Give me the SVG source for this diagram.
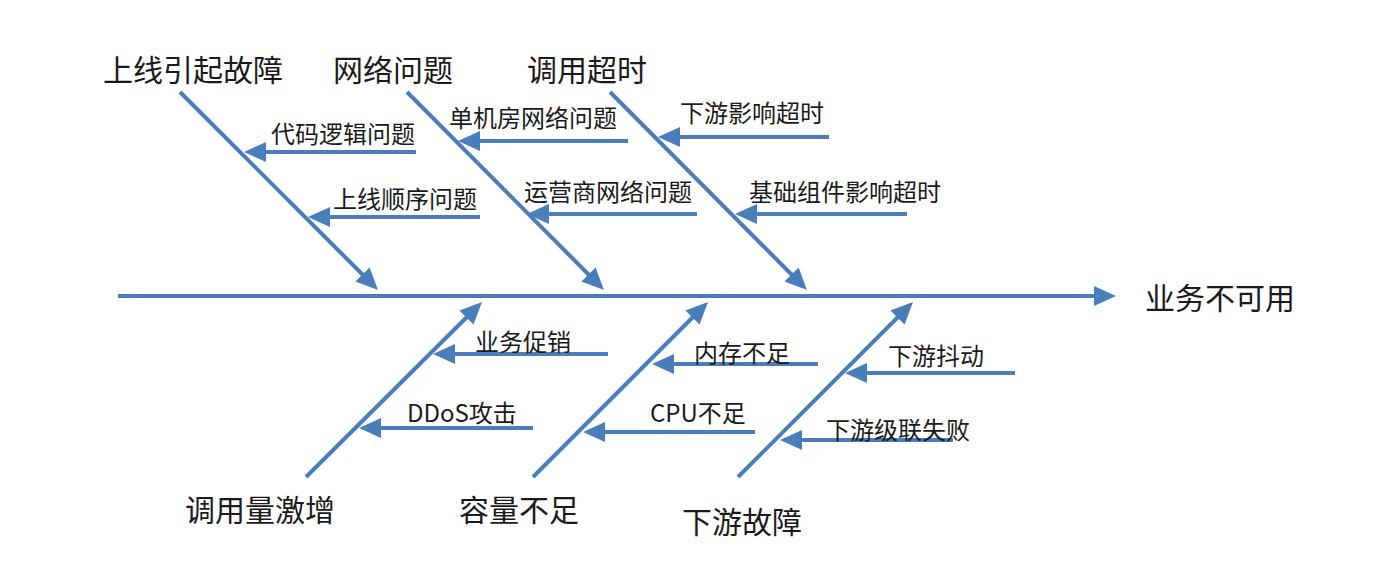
<svg xmlns="http://www.w3.org/2000/svg" width="1400" height="581" viewBox="0 0 1400 581">
<style>
.ln{stroke:#4a7ebb;stroke-width:4;fill:none;marker-end:url(#ah)}
.big{font-family:"Noto Sans CJK SC","Noto Sans",sans-serif;font-size:30px;fill:#1a1a1a}
.sm{font-family:"Noto Sans CJK SC","Noto Sans",sans-serif;font-size:24px;fill:#1a1a1a}
</style>
<defs>
<marker id="ah" markerUnits="userSpaceOnUse" markerWidth="22" markerHeight="20" refX="17" refY="10" orient="auto" overflow="visible">
<path d="M0,0 L22,10 L0,20 z" fill="#4a7ebb"/>
</marker>
</defs>
<rect width="1400" height="581" fill="#ffffff"/>
<g id="connectors">
<line class="ln" x1="118" y1="296" x2="1111" y2="296"/>
<line class="ln" x1="180" y1="92" x2="374.5" y2="286.5"/>
<line class="ln" x1="407" y1="92" x2="600.5" y2="286.5"/>
<line class="ln" x1="610" y1="92" x2="803.5" y2="286.5"/>
<line class="ln" x1="306" y1="477" x2="478.5" y2="305.5"/>
<line class="ln" x1="533" y1="477" x2="704.5" y2="305.5"/>
<line class="ln" x1="738" y1="477" x2="909.5" y2="305.5"/>
<line class="ln" x1="416" y1="152" x2="249" y2="152"/>
<line class="ln" x1="480" y1="217" x2="313" y2="217"/>
<line class="ln" x1="628" y1="141" x2="463" y2="141"/>
<line class="ln" x1="697" y1="214" x2="532" y2="214"/>
<line class="ln" x1="829" y1="137" x2="663" y2="137"/>
<line class="ln" x1="907" y1="214" x2="740" y2="214"/>
<line class="ln" x1="608" y1="354" x2="438" y2="354"/>
<line class="ln" x1="533" y1="428" x2="364" y2="428"/>
<line class="ln" x1="818" y1="364" x2="657" y2="364"/>
<line class="ln" x1="755" y1="432" x2="588" y2="432"/>
<line class="ln" x1="1015" y1="373" x2="850" y2="373"/>
<line class="ln" x1="953" y1="440" x2="785" y2="440"/>
</g>
<g id="result"><text class="big" x="1145" y="309">业务不可用</text></g>
<g id="cat-deploy"><text class="big" x="103" y="81">上线引起故障</text></g>
<g id="cat-network"><text class="big" x="333" y="81">网络问题</text></g>
<g id="cat-timeout"><text class="big" x="527" y="81">调用超时</text></g>
<g id="cat-surge"><text class="big" x="185" y="521">调用量激增</text></g>
<g id="cat-capacity"><text class="big" x="459" y="521">容量不足</text></g>
<g id="cat-downstream"><text class="big" x="682" y="533">下游故障</text></g>
<g id="c-code"><text class="sm" x="271" y="143">代码逻辑问题</text></g>
<g id="c-order"><text class="sm" x="333" y="208">上线顺序问题</text></g>
<g id="c-room"><text class="sm" x="449" y="127">单机房网络问题</text></g>
<g id="c-isp"><text class="sm" x="524" y="201">运营商网络问题</text></g>
<g id="c-down-timeout"><text class="sm" x="680" y="122">下游影响超时</text></g>
<g id="c-base-timeout"><text class="sm" x="749" y="201">基础组件影响超时</text></g>
<g id="c-promo"><text class="sm" x="475" y="351">业务促销</text></g>
<g id="c-ddos"><text class="sm" x="407" y="422">DDoS攻击</text></g>
<g id="c-mem"><text class="sm" x="694" y="362">内存不足</text></g>
<g id="c-cpu"><text class="sm" x="650" y="422">CPU不足</text></g>
<g id="c-jitter"><text class="sm" x="888" y="365">下游抖动</text></g>
<g id="c-cascade"><text class="sm" x="826" y="439">下游级联失败</text></g>
</svg>
